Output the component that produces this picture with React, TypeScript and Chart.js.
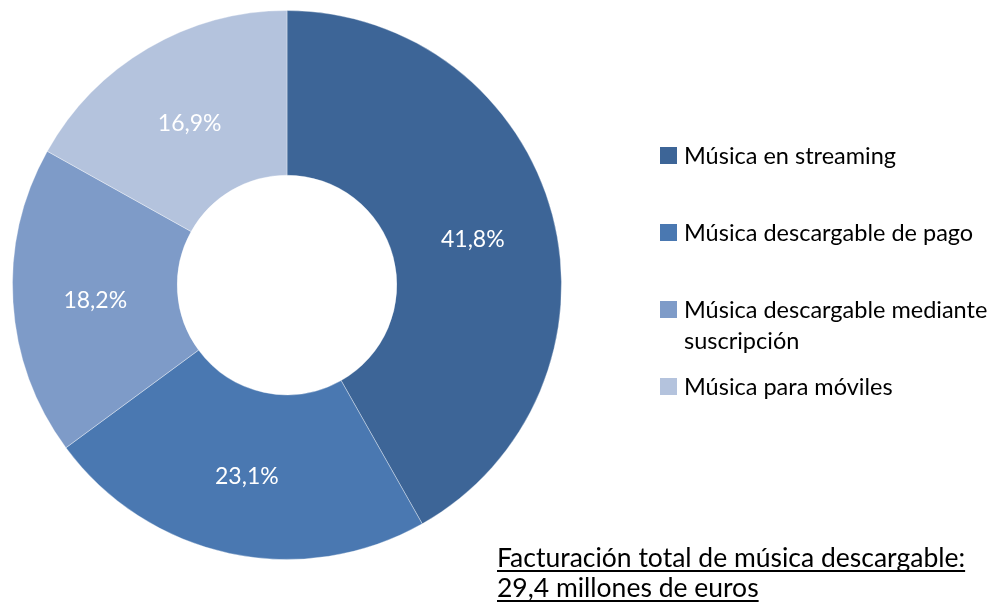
import React, { useEffect, useRef } from "react";
import { Chart, registerables } from "chart.js";

Chart.register(...registerables);

const categories = [
  "Música en streaming",
  "Música descargable de pago",
  "Música descargable mediante suscripción",
  "Música para móviles",
];
const legendLines = [
  ["Música en streaming"],
  ["Música descargable de pago"],
  ["Música descargable mediante", "suscripción"],
  ["Música para móviles"],
];
const values = [41.8, 23.1, 18.2, 16.9];
const valueLabels = ["41,8%", "23,1%", "18,2%", "16,9%"];
const colors = ["#3d6597", "#4a78b1", "#7e9bc8", "#b4c3dd"];
const noteLines = ["Facturación total de música descargable:", "29,4 millones de euros"];

const FONT = "Lato, 'Open Sans', sans-serif";

const overlay = {
  id: "overlay",
  afterDatasetsDraw(chart: any) {
    const ctx = chart.ctx as CanvasRenderingContext2D;
    const meta = chart.getDatasetMeta(0);
    ctx.save();
    ctx.fillStyle = "#ffffff";
    ctx.font = `23px ${FONT}`;
    ctx.textAlign = "center";
    ctx.textBaseline = "middle";
    meta.data.forEach((arc: any, i: number) => {
      const p = arc.tooltipPosition();
      ctx.fillText(valueLabels[i], p.x, p.y + 4);
    });
    ctx.restore();
  },
  afterDraw(chart: any) {
    const ctx = chart.ctx as CanvasRenderingContext2D;
    ctx.save();
    ctx.font = `23.5px ${FONT}`;
    ctx.textBaseline = "alphabetic";
    ctx.textAlign = "left";
    const rowY = [164, 241, 318, 395];
    legendLines.forEach((lines, i) => {
      ctx.fillStyle = colors[i];
      ctx.fillRect(660, rowY[i] - 17, 17, 17);
      ctx.fillStyle = "#000000";
      lines.forEach((t, j) => {
        ctx.fillText(t, 684, rowY[i] + j * 31);
      });
    });
    ctx.font = `26.5px ${FONT}`;
    const noteY = [567, 597];
    noteLines.forEach((t, j) => {
      ctx.fillStyle = "#000000";
      ctx.fillText(t, 497, noteY[j]);
      const w = ctx.measureText(t).width;
      ctx.fillRect(497, noteY[j] + 3, w, 2);
    });
    ctx.restore();
  },
};

export default function App() {
  const ref = useRef<HTMLCanvasElement>(null);
  useEffect(() => {
    if (!ref.current) return;
    const chart = new Chart(ref.current, {
      type: "doughnut",
      data: {
        labels: categories,
        datasets: [
          {
            data: values,
            backgroundColor: colors,
            borderColor: "rgba(255,255,255,0.35)",
            borderWidth: 1,
          },
        ],
      },
      options: {
        responsive: false,
        animation: false,
        cutout: "40%",
        layout: { padding: { left: 12, top: 10, right: 434, bottom: 47 } },
        plugins: { legend: { display: false }, tooltip: { enabled: false } },
      },
      plugins: [overlay],
    });
    return () => chart.destroy();
  }, []);
  return (
    <div style={{ position: "fixed", left: 0, top: 0, width: 996, height: 607, background: "#fff" }}>
      <canvas ref={ref} width={996} height={607} style={{ display: "block" }} />
    </div>
  );
}
